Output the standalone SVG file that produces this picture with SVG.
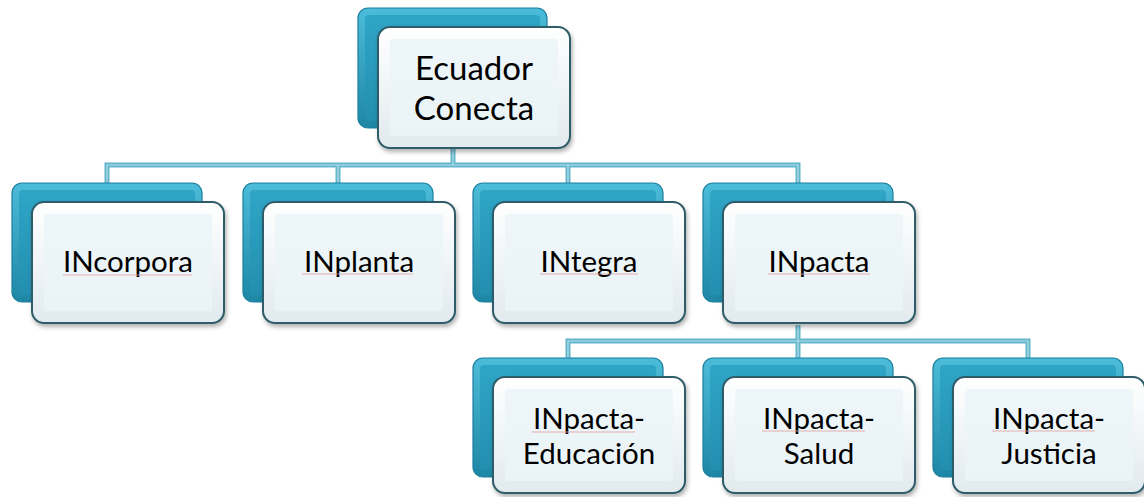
<svg xmlns="http://www.w3.org/2000/svg" width="1144" height="497" viewBox="0 0 1144 497">
<style>
.bk{fill:url(#gBack);stroke:#1b7f9d;stroke-width:1.2}
.bki{fill:url(#gBackIn);stroke:none}
.bkh{fill:#5cc7e2;opacity:.7}
.fr{fill:url(#gFront);stroke:#2f5c68;stroke-width:2;filter:url(#sh)}
.fri{fill:url(#gFrontIn);stroke:none}
.lbl{font-family:Lato,"Liberation Sans",sans-serif;fill:#000;text-anchor:middle}
.t1{font-size:33px}
.t2{font-size:29.5px}
.c{fill:none;stroke:#62b6cc;stroke-width:5}
.ci{fill:none;stroke:#b8e0ea;stroke-width:1.2}
.sp{stroke:#e29c9c;stroke-width:1;opacity:.8}
</style>
<defs>
<linearGradient id="gBack" x1="0" y1="0" x2="0" y2="1">
<stop offset="0" stop-color="#4bbcd9"/><stop offset="1" stop-color="#1e86a5"/>
</linearGradient>
<linearGradient id="gBackIn" x1="0" y1="0" x2="0" y2="1">
<stop offset="0" stop-color="#2fa5c6"/><stop offset="1" stop-color="#238fb0"/>
</linearGradient>
<linearGradient id="gFront" x1="0" y1="0" x2="0" y2="1">
<stop offset="0" stop-color="#ffffff"/><stop offset="1" stop-color="#e1eaee"/>
</linearGradient>
<linearGradient id="gFrontIn" x1="0" y1="0" x2="0" y2="1">
<stop offset="0" stop-color="#eef6f9"/><stop offset="1" stop-color="#eaf3f6"/>
</linearGradient>
<filter id="sh" x="-10%" y="-10%" width="125%" height="130%">
<feDropShadow dx="1.5" dy="3" stdDeviation="2" flood-color="#000" flood-opacity=".3"/>
</filter>
</defs>

<g id="connectors">
<path class="c" d="M453,148V165M107,185V165H798V185M338,165V185M568,165V185M798,325V341M568,358V341H1028V358M798,341V358"/>
<path class="ci" d="M453,148V165M107,185V165H798V185M338,165V185M568,165V185M798,325V341M568,358V341H1028V358M798,341V358"/>
</g>

<g id="node-ecuador">
<rect class="bk" x="358" y="8" width="189" height="120" rx="10"/>
<rect class="bki" x="365" y="15" width="175" height="106" rx="4"/>
<rect class="fr" x="378" y="27" width="192" height="121" rx="12"/>
<rect class="fri" x="390" y="39" width="168" height="97" rx="3"/>
<text class="lbl t1" x="474" y="80">Ecuador</text>
<text class="lbl t1" x="474" y="120">Conecta</text>
</g>

<g id="node-incorpora">
<rect class="bk" x="12" y="183" width="190" height="119" rx="10"/>
<rect class="bki" x="19" y="190" width="176" height="105" rx="4"/>
<rect class="fr" x="32" y="202" width="192" height="121" rx="12"/>
<rect class="fri" x="44" y="214" width="168" height="97" rx="3"/>
<text class="lbl t2" x="128" y="272">INcorpora</text>
<line class="sp" x1="63" y1="275" x2="192" y2="275"/>
</g>

<g id="node-inplanta">
<rect class="bk" x="243" y="183" width="190" height="119" rx="10"/>
<rect class="bki" x="250" y="190" width="176" height="105" rx="4"/>
<rect class="fr" x="263" y="202" width="192" height="121" rx="12"/>
<rect class="fri" x="275" y="214" width="168" height="97" rx="3"/>
<text class="lbl t2" x="359" y="272">INplanta</text>
<line class="sp" x1="302" y1="274" x2="413" y2="274"/>
</g>

<g id="node-integra">
<rect class="bk" x="473" y="183" width="190" height="119" rx="10"/>
<rect class="bki" x="480" y="190" width="176" height="105" rx="4"/>
<rect class="fr" x="493" y="202" width="192" height="121" rx="12"/>
<rect class="fri" x="505" y="214" width="168" height="97" rx="3"/>
<text class="lbl t2" x="589" y="272">INtegra</text>
<line class="sp" x1="540" y1="274" x2="638" y2="274"/>
</g>

<g id="node-inpacta">
<rect class="bk" x="703" y="183" width="190" height="119" rx="10"/>
<rect class="bki" x="710" y="190" width="176" height="105" rx="4"/>
<rect class="fr" x="723" y="202" width="192" height="121" rx="12"/>
<rect class="fri" x="735" y="214" width="168" height="97" rx="3"/>
<text class="lbl t2" x="819" y="272">INpacta</text>
<line class="sp" x1="768" y1="274" x2="870" y2="274"/>
</g>

<g id="node-educacion">
<rect class="bk" x="473" y="358" width="190" height="119" rx="10"/>
<rect class="bki" x="480" y="365" width="176" height="105" rx="4"/>
<rect class="fr" x="493" y="377" width="192" height="116" rx="12"/>
<rect class="fri" x="505" y="389" width="168" height="92" rx="3"/>
<text class="lbl t2" x="589" y="429">INpacta-</text>
<text class="lbl t2" x="589" y="464">Educación</text>
<line class="sp" x1="532" y1="432" x2="635" y2="432"/>
</g>

<g id="node-salud">
<rect class="bk" x="703" y="358" width="190" height="119" rx="10"/>
<rect class="bki" x="710" y="365" width="176" height="105" rx="4"/>
<rect class="fr" x="723" y="377" width="192" height="116" rx="12"/>
<rect class="fri" x="735" y="389" width="168" height="92" rx="3"/>
<text class="lbl t2" x="819" y="429">INpacta-</text>
<text class="lbl t2" x="819" y="464">Salud</text>
<line class="sp" x1="762" y1="431" x2="865" y2="431"/>
</g>

<g id="node-justicia">
<rect class="bk" x="933" y="358" width="190" height="119" rx="10"/>
<rect class="bki" x="940" y="365" width="176" height="105" rx="4"/>
<rect class="fr" x="953" y="377" width="192" height="116" rx="12"/>
<rect class="fri" x="965" y="389" width="168" height="92" rx="3"/>
<text class="lbl t2" x="1049" y="429">INpacta-</text>
<text class="lbl t2" x="1049" y="464">Justicia</text>
<line class="sp" x1="992" y1="431" x2="1095" y2="431"/>
</g>
</svg>
